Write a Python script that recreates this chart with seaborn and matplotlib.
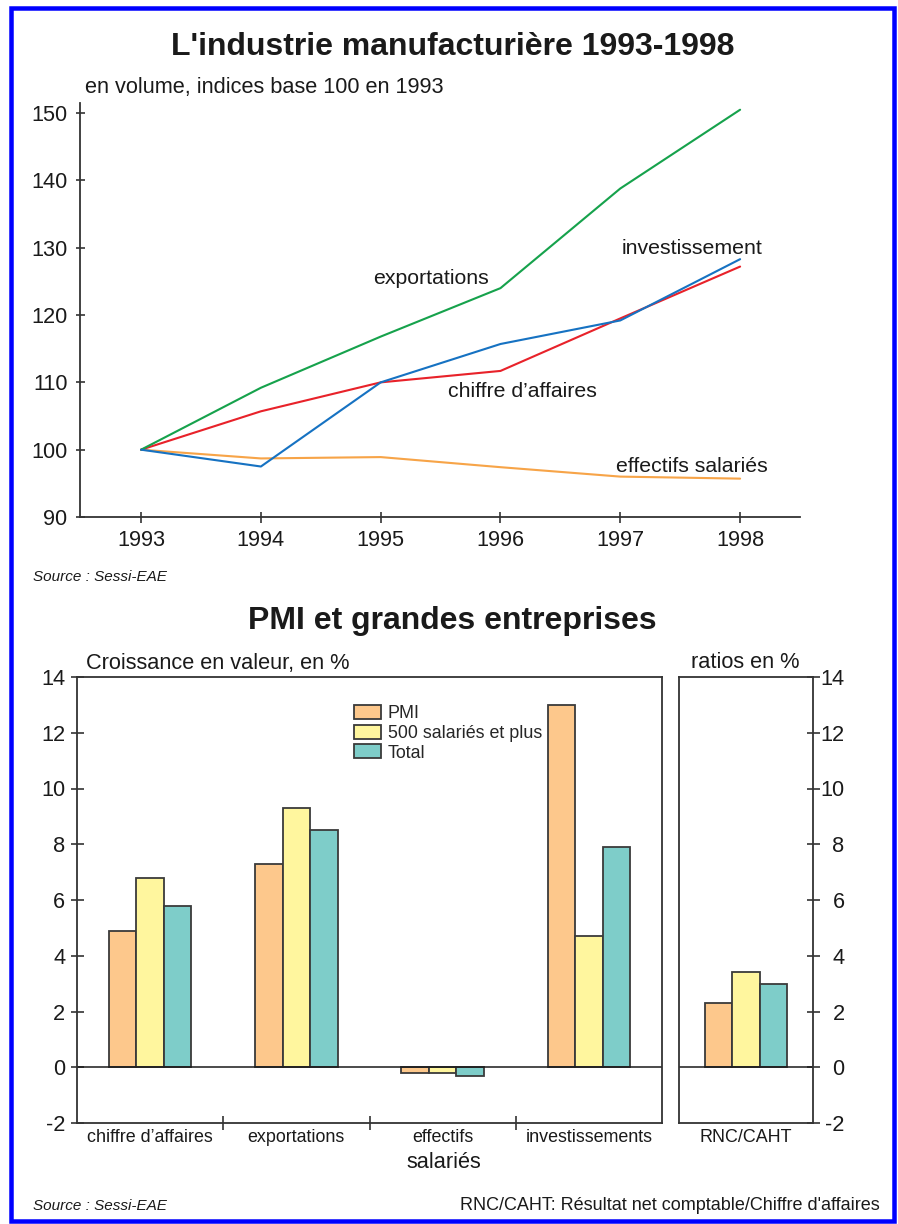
import matplotlib
matplotlib.use("Agg")
import matplotlib.pyplot as plt
from matplotlib.patches import Rectangle
import pandas as pd
import seaborn as sns

# ---------------------------------------------------------------- data
years = [1993, 1994, 1995, 1996, 1997, 1998]
exportations = [100.0, 109.2, 116.8, 124.0, 138.8, 150.5]
chiffre_affaires = [100.0, 105.7, 110.0, 111.7, 119.5, 127.2]
investissement = [100.0, 97.5, 110.0, 115.7, 119.2, 128.3]
effectifs_salaries = [100.0, 98.7, 98.9, 97.4, 96.0, 95.7]

categories = ["chiffre d’affaires", "exportations", "effectifs salariés", "investissements"]
category_labels = ["chiffre d’affaires", "exportations", "effectifs", "investissements"]
groups = ["PMI", "500 salariés et plus", "Total"]
pmi = [4.9, 7.3, -0.2, 13.0]
grandes = [6.8, 9.3, -0.2, 4.7]
total = [5.8, 8.5, -0.3, 7.9]

ratio_category = ["RNC/CAHT"]
ratio_pmi = [2.3]
ratio_grandes = [3.4]
ratio_total = [3.0]

top_yticks = [90, 100, 110, 120, 130, 140, 150]
bottom_yticks = [-2, 0, 2, 4, 6, 8, 10, 12, 14]

# ---------------------------------------------------------------- style
sns.set_theme(style="white")
plt.rcParams["font.family"] = ["Liberation Sans", "DejaVu Sans"]
INK = "#1a1a1a"
AXIS = "#333333"
EDGE = "#3a3a3a"
PT = 72 / 100  # points per pixel at 100 dpi
SMALL = 12.9   # compact labels of the bar panels

line_colors = {
    "effectifs salariés": "#F7A448",
    "chiffre d’affaires": "#E8222A",
    "exportations": "#16A24C",
    "investissement": "#1672C2",
}
bar_colors = {"PMI": "#FDC88C", "500 salariés et plus": "#FFF69E", "Total": "#7ECDC9"}

W, H = 898, 1224
fig = plt.figure(figsize=(W / 100, H / 100), dpi=100)
fig.patch.set_facecolor("white")


def fx(px):
    return px / W


def fy(py):
    return 1 - py / H


# ---------------------------------------------------------------- line chart
ax = fig.add_axes([fx(80), fy(517), fx(800) - fx(80), fy(103) - fy(517)])
line_df = pd.concat([
    pd.DataFrame({"annee": years, "indice": effectifs_salaries, "serie": "effectifs salariés"}),
    pd.DataFrame({"annee": years, "indice": chiffre_affaires, "serie": "chiffre d’affaires"}),
    pd.DataFrame({"annee": years, "indice": exportations, "serie": "exportations"}),
    pd.DataFrame({"annee": years, "indice": investissement, "serie": "investissement"}),
], ignore_index=True)
sns.lineplot(data=line_df, x="annee", y="indice", hue="serie",
             hue_order=list(line_colors), palette=line_colors,
             linewidth=2.1 * PT, legend=False, ax=ax)
ax.set_xlim(1992.49, 1998.5)
ax.set_ylim(90, 151.5)
ax.set_xticks(years)
ax.set_xticklabels([str(y) for y in years])
ax.set_yticks(top_yticks)
ax.set_xlabel("")
ax.set_ylabel("")
for side in ("top", "right"):
    ax.spines[side].set_visible(False)
for side in ("left", "bottom"):
    ax.spines[side].set_color(AXIS)
    ax.spines[side].set_linewidth(1.3)
ax.tick_params(axis="x", direction="inout", length=11 * PT, width=1.2, color=AXIS,
               pad=7 * PT, labelsize=15.7, labelcolor=INK, bottom=True)
ax.tick_params(axis="y", direction="inout", length=9 * PT, width=1.2, color=AXIS,
               pad=8 * PT, labelsize=15.7, labelcolor=INK, left=True)

line_labels = [
    ("exportations", 1995.42, 125.5),
    ("investissement", 1997.6, 129.85),
    ("chiffre d’affaires", 1996.18, 108.6),
    ("effectifs salariés", 1997.6, 97.5),
]
for txt, xv, yv in line_labels:
    ax.text(xv, yv, txt, ha="center", va="center", fontsize=15.3, color=INK)

# ---------------------------------------------------------------- bar charts
bar_df = pd.concat([
    pd.DataFrame({"categorie": categories, "valeur": pmi, "groupe": "PMI"}),
    pd.DataFrame({"categorie": categories, "valeur": grandes, "groupe": "500 salariés et plus"}),
    pd.DataFrame({"categorie": categories, "valeur": total, "groupe": "Total"}),
], ignore_index=True)
ratio_df = pd.concat([
    pd.DataFrame({"categorie": ratio_category, "valeur": ratio_pmi, "groupe": "PMI"}),
    pd.DataFrame({"categorie": ratio_category, "valeur": ratio_grandes, "groupe": "500 salariés et plus"}),
    pd.DataFrame({"categorie": ratio_category, "valeur": ratio_total, "groupe": "Total"}),
], ignore_index=True)

axb = fig.add_axes([fx(77), fy(1123), fx(662) - fx(77), fy(677) - fy(1123)])
axr = fig.add_axes([fx(679), fy(1123), fx(813) - fx(679), fy(677) - fy(1123)])

sns.barplot(data=bar_df, x="categorie", y="valeur", hue="groupe", order=categories,
            hue_order=groups, palette=bar_colors, saturation=1, width=0.565,
            edgecolor=EDGE, linewidth=1.3, errorbar=None, ax=axb)
sns.barplot(data=ratio_df, x="categorie", y="valeur", hue="groupe", order=ratio_category,
            hue_order=groups, palette=bar_colors, saturation=1, width=0.565,
            edgecolor=EDGE, linewidth=1.3, errorbar=None, legend=False, ax=axr)

for a in (axb, axr):
    a.set_ylim(-2, 14)
    a.set_xlabel("")
    a.set_ylabel("")
    a.axhline(0, color=INK, linewidth=1.1, zorder=1)
    for s in a.spines.values():
        s.set_visible(True)
        s.set_color(AXIS)
        s.set_linewidth(1.3)

axb.set_xlim(-0.5, 3.5)
axb.set_yticks(bottom_yticks)
axb.set_yticklabels([str(v) for v in bottom_yticks])
axb.set_xticks([0.5, 1.5, 2.5], labels=[])
axb.set_xticks(range(len(categories)), labels=category_labels, minor=True)
axb.tick_params(axis="x", which="major", direction="inout", length=14 * PT, width=1.2,
                color=AXIS, bottom=True)
axb.tick_params(axis="x", which="minor", length=0, pad=6 * PT, labelsize=SMALL,
                labelcolor=INK, bottom=True)
axb.tick_params(axis="y", direction="inout", length=13 * PT, width=1.2, color=AXIS,
                pad=5 * PT, labelsize=15.7, labelcolor=INK, left=True)

axr.set_xlim(-0.458, 0.458)
axr.yaxis.tick_right()
axr.set_yticks(bottom_yticks)
axr.set_yticklabels([str(v) for v in bottom_yticks])
axr.set_xticks([], labels=[])
axr.set_xticks([0], labels=ratio_category, minor=True)
axr.tick_params(axis="x", which="minor", length=0, pad=6 * PT, labelsize=SMALL,
                labelcolor=INK, bottom=True)
axr.tick_params(axis="y", which="both", left=False, right=True, labelleft=False,
                labelright=True, direction="inout", length=13 * PT, width=1.2,
                color=AXIS, pad=25 * PT, labelsize=15.7, labelcolor=INK)
for lbl in axr.get_yticklabels():
    lbl.set_horizontalalignment("right")

handles, labels = axb.get_legend_handles_labels()
if axb.get_legend() is not None:
    axb.get_legend().remove()
axb.legend(handles, labels, loc="upper left", bbox_to_anchor=(fx(354), fy(705)),
           bbox_transform=fig.transFigure, frameon=False,
           prop={"size": SMALL}, handlelength=1.5, handleheight=0.84,
           handletextpad=0.39, labelspacing=0.13, borderpad=0, borderaxespad=0)

# ---------------------------------------------------------------- texts
fig.text(fx(453), fy(47), "L'industrie manufacturière 1993-1998", ha="center",
         va="center", fontsize=23, fontweight="bold", color=INK)
fig.text(fx(85), fy(88), "en volume, indices base 100 en 1993", ha="left",
         va="center", fontsize=15.7, color=INK)
fig.text(fx(33), fy(577), "Source : Sessi-EAE", ha="left", va="center",
         fontsize=11, style="italic", color=INK)
fig.text(fx(452), fy(621), "PMI et grandes entreprises", ha="center", va="center",
         fontsize=23, fontweight="bold", color=INK)
fig.text(fx(86), fy(663), "Croissance en valeur, en %", ha="left", va="center",
         fontsize=15.7, color=INK)
fig.text(fx(745), fy(663), "ratios en %", ha="center", va="center",
         fontsize=15.7, color=INK)
fig.text(fx(444), fy(1162), "salariés", ha="center", va="center",
         fontsize=15.7, color=INK)
fig.text(fx(33), fy(1206), "Source : Sessi-EAE", ha="left", va="center",
         fontsize=11, style="italic", color=INK)
fig.text(fx(880), fy(1206), "RNC/CAHT: Résultat net comptable/Chiffre d'affaires",
         ha="right", va="center", fontsize=13, color=INK)

# blue frame around the whole figure
fig.patches.append(Rectangle((fx(11), fy(1221)), fx(894) - fx(11), fy(8) - fy(1221),
                             transform=fig.transFigure, fill=False,
                             edgecolor="#0000FF", linewidth=4.5 * PT))

fig.savefig("out.png", dpi=100)
